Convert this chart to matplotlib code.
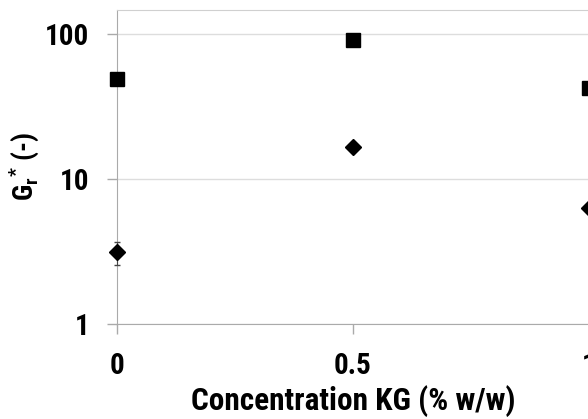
import numpy as np
import matplotlib as mpl
mpl.use('agg')
import matplotlib.pyplot as plt

conc = [0, 0.5, 1.0]
gr_square = [48.5, 90.0, 42.5]
gr_square_err = [1.5, 4.0, 1.5]
gr_diamond = [3.12, 16.5, 6.35]
gr_diamond_err = [0.58, 0.5, 0.3]
yticks = [1, 10, 100]
xticks = [0, 0.5, 1]
xticklabels = ["0", "0.5", "1"]

plt.rcParams['font.family'] = ['Roboto Condensed', 'Liberation Sans', 'DejaVu Sans']
plt.rcParams['font.weight'] = 'bold'
plt.rcParams['mathtext.fontset'] = 'custom'
plt.rcParams['mathtext.rm'] = 'Roboto Condensed:bold'
plt.rcParams['mathtext.bf'] = 'Roboto Condensed:bold'

fig = plt.figure(figsize=(5.88, 4.19), dpi=100)
ax = fig.add_axes([117 / 588, 95 / 419, 472 / 588, 314 / 419])

ax.errorbar(conc, gr_square, yerr=gr_square_err, fmt='s', color='black',
            markersize=10, ecolor='black', elinewidth=0.8, capsize=2,
            clip_on=False, zorder=3)
ax.errorbar(conc, gr_diamond, yerr=gr_diamond_err, fmt='D', color='black',
            markersize=8, ecolor='#444444', elinewidth=0.8, capsize=2,
            clip_on=False, zorder=3)

ax.set_yscale('log')
ax.set_ylim(1, 146)
ax.set_xlim(0, 1)
ax.set_yticks(yticks)
ax.set_yticklabels([str(v) for v in yticks])
ax.yaxis.set_minor_locator(mpl.ticker.NullLocator())
ax.set_xticks(xticks)
ax.set_xticklabels(xticklabels)

ax.grid(axis='y', color='#dddddd', linewidth=1)
ax.set_axisbelow(True)
for side in ['left', 'bottom', 'top']:
    ax.spines[side].set_color('#aaaaaa')
ax.spines['top'].set_color('#d0d0d0')
ax.spines['right'].set_visible(False)
ax.tick_params(axis='both', direction='out', length=7, width=1,
               color='#aaaaaa', labelsize=21, pad=13)

ax.set_xlabel("Concentration KG (% w/w)", fontsize=22.5, fontweight='bold',
              labelpad=4)
ax.set_ylabel(r"G$_\mathbf{r}$$^\mathbf{*}$ (-)", fontsize=20,
              fontweight='bold', labelpad=3)

fig.savefig("out.png", dpi=100)
